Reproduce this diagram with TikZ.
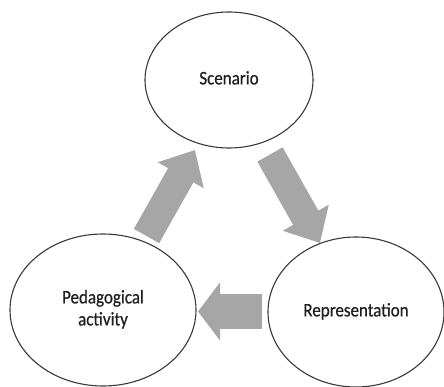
\documentclass[tikz,border=0pt]{standalone}
\usepackage{fontspec}
\setmainfont{Carlito}
\newfontfamily\stagefont{Carlito}[FakeBold=0.6]
\usetikzlibrary{arrows.meta,shapes.geometric}
\definecolor{blockgray}{HTML}{A6A6A6}
\definecolor{rimgray}{HTML}{3A3A3A}
% labels are set a little taller than the font's natural shape
\newcommand{\stagelabel}[1]{\scalebox{1}[1.13]{\begin{tabular}{@{}c@{}}#1\end{tabular}}}
\begin{document}
\begin{tikzpicture}[x=1pt,y=-1pt,
  stage/.style={ellipse, draw=rimgray, line width=1.1pt, fill=white, inner sep=0pt,
    font=\stagefont\fontsize{17}{19.5}\selectfont, text=black!88},
  flow/.style={draw=blockgray, line width=#1, line cap=butt},
  bighead/.style n args={2}{-{Triangle[width=#1,length=#2]}}]
  \useasboundingbox (0,0) rectangle (444,387);
  \fill[white] (0,0) rectangle (444,387);

  % the three stages of the cycle
  \node[stage, minimum width=168pt, minimum height=136pt] (scen) at (229,80) {\stagelabel{Scenario}};
  \node[stage, minimum width=186pt, minimum height=152pt] (ped) at (103,310) {\stagelabel{Pedagogical\\activity}};
  \node[stage, minimum width=176pt, minimum height=150pt] (rep) at (356,312) {\stagelabel{Representation}};

  % ends of the block arrows
  \coordinate (pedOut) at (146.5,236);
  \coordinate (scenIn) at (195,150);
  \coordinate (scenOut) at (270,154.5);
  \coordinate (repIn) at (320,243);
  \coordinate (repOut) at (262,311.5);
  \coordinate (pedIn) at (198,311.5);

  \draw[flow=29pt, bighead={51pt}{29pt}] (pedOut) -- (scenIn);
  \draw[flow=29pt, bighead={51pt}{29pt}] (scenOut) -- (repIn);
  \draw[flow=35pt, bighead={57pt}{22pt}] (repOut) -- (pedIn);
\end{tikzpicture}
\end{document}
